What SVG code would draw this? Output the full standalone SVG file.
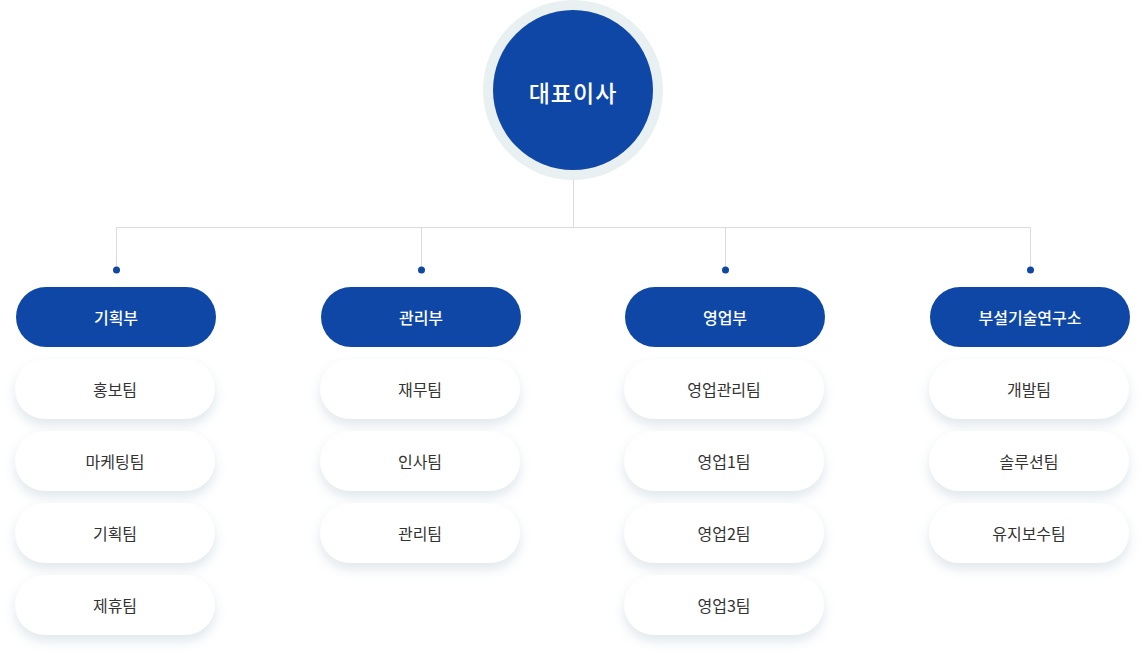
<svg xmlns="http://www.w3.org/2000/svg" width="1144" height="661" viewBox="0 0 1144 661">
<defs>
<filter id="sh" x="-20%" y="-40%" width="140%" height="190%">
<feDropShadow dx="0" dy="6" stdDeviation="6" flood-color="#b9cad3" flood-opacity="0.45"/>
</filter>
<style>
.dept{fill:#0e47a6}
.team{fill:#ffffff;filter:url(#sh)}
.dt{font-family:"Noto Sans CJK KR","Noto Sans",sans-serif;font-size:16px;font-weight:500;fill:#ffffff;text-anchor:middle;dominant-baseline:central}
.tt{font-family:"Noto Sans CJK KR","Noto Sans",sans-serif;font-size:16px;font-weight:400;fill:#333333;text-anchor:middle;dominant-baseline:central}
.ln{stroke:#dcdcdc;stroke-width:1;fill:none}
.dot{fill:#0e47a6}
</style>
</defs>
<rect width="1144" height="661" fill="#ffffff"/>
<g id="connectors">
<path class="ln" d="M573.5 170 V227.5 M116.5 227.5 H1030.5 M116.5 227.5 V270 M421.5 227.5 V270 M725.5 227.5 V270 M1030.5 227.5 V270"/>
<circle class="dot" cx="116.5" cy="270" r="3.5"/>
<circle class="dot" cx="421.5" cy="270" r="3.5"/>
<circle class="dot" cx="725.5" cy="270" r="3.5"/>
<circle class="dot" cx="1030.5" cy="270" r="3.5"/>
</g>
<g id="ceo">
<circle cx="573" cy="90" r="90" fill="#e8f0f1"/>
<circle cx="573" cy="90" r="80" fill="#0e47a6"/>
<text x="573" y="92" font-family="'Noto Sans CJK KR','Noto Sans',sans-serif" font-size="23" font-weight="500" fill="#ffffff" text-anchor="middle" dominant-baseline="central" letter-spacing="1">대표이사</text>
</g>
<g id="dept1"><rect class="dept" x="16" y="287" width="200" height="60" rx="30"/><text class="dt" x="116" y="317">기획부</text></g>
<g id="dept2"><rect class="dept" x="321" y="287" width="200" height="60" rx="30"/><text class="dt" x="421" y="317">관리부</text></g>
<g id="dept3"><rect class="dept" x="625" y="287" width="200" height="60" rx="30"/><text class="dt" x="725" y="317">영업부</text></g>
<g id="dept4"><rect class="dept" x="930" y="287" width="200" height="60" rx="30"/><text class="dt" x="1030" y="317">부설기술연구소</text></g>

<g id="team1-1"><rect class="team" x="15" y="359" width="200" height="60" rx="30"/><text class="tt" x="115" y="389">홍보팀</text></g>
<g id="team1-2"><rect class="team" x="15" y="431" width="200" height="60" rx="30"/><text class="tt" x="115" y="461">마케팅팀</text></g>
<g id="team1-3"><rect class="team" x="15" y="503" width="200" height="60" rx="30"/><text class="tt" x="115" y="533">기획팀</text></g>
<g id="team1-4"><rect class="team" x="15" y="575" width="200" height="60" rx="30"/><text class="tt" x="115" y="605">제휴팀</text></g>

<g id="team2-1"><rect class="team" x="320" y="359" width="200" height="60" rx="30"/><text class="tt" x="420" y="389">재무팀</text></g>
<g id="team2-2"><rect class="team" x="320" y="431" width="200" height="60" rx="30"/><text class="tt" x="420" y="461">인사팀</text></g>
<g id="team2-3"><rect class="team" x="320" y="503" width="200" height="60" rx="30"/><text class="tt" x="420" y="533">관리팀</text></g>

<g id="team3-1"><rect class="team" x="624" y="359" width="200" height="60" rx="30"/><text class="tt" x="724" y="389">영업관리팀</text></g>
<g id="team3-2"><rect class="team" x="624" y="431" width="200" height="60" rx="30"/><text class="tt" x="724" y="461">영업1팀</text></g>
<g id="team3-3"><rect class="team" x="624" y="503" width="200" height="60" rx="30"/><text class="tt" x="724" y="533">영업2팀</text></g>
<g id="team3-4"><rect class="team" x="624" y="575" width="200" height="60" rx="30"/><text class="tt" x="724" y="605">영업3팀</text></g>

<g id="team4-1"><rect class="team" x="929" y="359" width="200" height="60" rx="30"/><text class="tt" x="1029" y="389">개발팀</text></g>
<g id="team4-2"><rect class="team" x="929" y="431" width="200" height="60" rx="30"/><text class="tt" x="1029" y="461">솔루션팀</text></g>
<g id="team4-3"><rect class="team" x="929" y="503" width="200" height="60" rx="30"/><text class="tt" x="1029" y="533">유지보수팀</text></g>
</svg>
